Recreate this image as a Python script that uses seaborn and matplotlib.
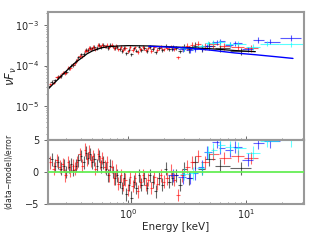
import numpy as np
import pandas as pd
import matplotlib
matplotlib.use("Agg")
import matplotlib.pyplot as plt
import seaborn as sns

# dataset 1 (black)
black_E = [0.21, 0.225, 0.24, 0.255, 0.27, 0.285, 0.30, 0.315, 0.33, 0.345, 0.36,
           0.38, 0.40, 0.42, 0.44, 0.46, 0.48, 0.50, 0.52, 0.545, 0.57, 0.595, 0.62,
           0.65, 0.68, 0.71, 0.74, 0.775, 0.81, 0.85, 0.89, 0.93, 0.97, 1.02, 1.07,
           1.12, 1.18, 1.24, 1.30, 1.37, 1.45, 1.53, 1.62, 1.72, 1.83, 1.95, 2.08,
           2.22, 2.38, 2.56, 2.76, 3.0, 3.3, 3.7, 4.2, 4.9, 6.0, 9.0]
black_F = [3.2e-5, 4.0e-5, 4.3e-5, 5.2e-5, 5.5e-5, 6.7e-5, 7.0e-5, 8.5e-5, 1.0e-4, 1.03e-4, 1.3e-4,
           1.6e-4, 1.9e-4, 1.95e-4, 2.4e-4, 2.45e-4, 2.75e-4, 2.65e-4, 2.85e-4, 2.75e-4, 3.25e-4, 2.9e-4, 3.2e-4,
           3.0e-4, 2.75e-4, 3.25e-4, 3.0e-4, 2.7e-4, 2.85e-4, 2.6e-4, 2.3e-4, 2.75e-4, 2.0e-4, 2.45e-4, 1.9e-4,
           2.65e-4, 2.35e-4, 2.95e-4, 2.45e-4, 2.75e-4, 2.3e-4, 2.9e-4, 2.6e-4, 2.1e-4, 2.7e-4, 2.4e-4, 3.05e-4,
           2.5e-4, 2.6e-4, 2.7e-4, 2.25e-4, 2.9e-4, 2.5e-4, 3.1e-4, 2.7e-4, 3.1e-4, 2.7e-4, 2.3e-4]
black_R = [2.2, 2.0, 1.0, 1.5, 0.5, 1.0, 0.0, 0.8, 1.2, 0.3, 1.0,
           1.8, 2.5, 1.5, 3.0, 2.2, 2.8, 1.5, 2.0, 1.0, 2.5, 0.8, 1.5,
           0.5, -0.5, 1.0, 0.0, -1.0, -0.5, -1.5, -2.5, -1.0, -3.5, -2.0, -4.0,
           -1.5, -2.5, -0.5, -2.0, -1.0, -2.5, -0.5, -1.5, -3.0, -1.0, -2.0, 0.5,
           -1.5, -1.0, -0.5, -2.0, 0.5, -1.0, 1.5, 0.5, 2.0, 1.0, 0.6]

# dataset 2 (red)
red_E = [0.22, 0.235, 0.25, 0.265, 0.28, 0.295, 0.31, 0.325, 0.34, 0.355,
         0.37, 0.39, 0.41, 0.43, 0.45, 0.47, 0.49, 0.51, 0.53, 0.555,
         0.58, 0.605, 0.635, 0.665, 0.695, 0.725, 0.76, 0.79, 0.83, 0.87,
         0.91, 0.95, 0.995, 1.045, 1.095, 1.15, 1.21, 1.27, 1.34, 1.41,
         1.49, 1.58, 1.67, 1.77, 1.89, 2.01, 2.15, 2.30, 2.47, 2.66,
         2.88, 3.15, 3.5, 3.9, 4.5, 5.3, 6.5, 8.5, 11.0]
red_F = [3.45e-5, 3.8e-5, 5.1e-5, 5.5e-5, 6.7e-5, 6.5e-5, 8.9e-5, 8.8e-5, 1.07e-4, 1.13e-4,
         1.38e-4, 1.73e-4, 1.7e-4, 2.3e-4, 2.35e-4, 2.75e-4, 2.6e-4, 2.9e-4, 2.55e-4, 3.25e-4,
         3.0e-4, 3.3e-4, 3.0e-4, 3.3e-4, 2.8e-4, 3.2e-4, 2.7e-4, 3.05e-4, 2.5e-4, 2.9e-4,
         2.45e-4, 2.7e-4, 2.25e-4, 2.85e-4, 2.4e-4, 2.8e-4, 2.15e-4, 2.6e-4, 2.9e-4, 2.45e-4,
         2.65e-4, 2.3e-4, 2.8e-4, 2.45e-4, 2.85e-4, 2.5e-4, 2.65e-4, 2.95e-4, 2.55e-4, 1.6e-4,
         2.7e-4, 3.0e-4, 3.2e-4, 3.4e-4, 3.0e-4, 3.4e-4, 3.0e-4, 2.95e-4, 2.75e-4]
red_R = [1.5, 0.5, 1.8, 0.8, 1.2, -0.5, 1.5, 0.2, 1.0, 0.5,
         1.5, 2.8, 1.0, 3.5, 2.0, 3.2, 1.8, 2.5, 0.5, 2.8,
         1.5, 2.2, 0.8, 1.5, -0.5, 0.8, -1.0, 0.2, -1.8, -0.5,
         -2.0, -1.2, -2.8, -0.8, -2.2, -1.0, -3.0, -1.5, -0.5, -2.0,
         -1.2, -2.5, -0.8, -1.8, -0.5, -1.5, -1.0, 0.2, -1.2, -3.6,
         -0.5, 0.8, 1.5, 2.5, 1.5, 2.8, 2.2, 2.5, 2.2]

# dataset 3 (blue)
blue_E = [2.4, 2.9, 3.35, 3.7, 4.2, 4.7, 5.7, 6.0, 7.3, 8.1, 10.4, 12.6, 16.0, 24.0]
blue_F = [2.8e-4, 2.6e-4, 2.45e-4, 2.6e-4, 2.7e-4, 3.0e-4, 3.8e-4, 4.0e-4, 3.3e-4,
          3.6e-4, 2.5e-4, 4.3e-4, 3.9e-4, 4.8e-4]
blue_R = [-0.5, -0.8, -0.9, -0.2, 0.8, 3.1, 4.7, 3.8, 3.4, 3.9, 1.9, 4.6, 4.8, 6.0]

# dataset 4 (cyan)
cyan_E = [3.0, 3.55, 4.2, 4.75, 5.3, 6.0, 7.3, 8.6, 11.4, 15.0, 24.0]
cyan_F = [2.7e-4, 2.8e-4, 3.0e-4, 3.6e-4, 3.7e-4, 3.8e-4, 3.4e-4, 3.5e-4, 2.9e-4, 3.5e-4, 3.4e-4]
cyan_R = [-0.3, -0.2, 0.6, 3.1, 3.5, 4.2, 3.9, 3.7, 3.0, 4.9, 4.95]

# models
model_E = [0.21, 0.23, 0.25, 0.28, 0.32, 0.36, 0.40, 0.45, 0.50, 0.60, 0.70, 0.85,
           1.0, 1.5, 2.0, 3.0, 5.0, 8.0, 12.0]
model_F = [2.6e-5, 3.4e-5, 4.3e-5, 6.0e-5, 8.8e-5, 1.2e-4, 1.5e-4, 1.95e-4, 2.3e-4,
           2.75e-4, 2.95e-4, 3.05e-4, 3.1e-4, 3.05e-4, 2.95e-4, 2.8e-4, 2.6e-4, 2.35e-4, 2.2e-4]
model2_E = [1.5, 3.0, 5.0, 8.0, 12.0, 18.0, 25.0]
model2_F = [3.0e-4, 2.75e-4, 2.4e-4, 2.05e-4, 1.85e-4, 1.65e-4, 1.5e-4]


def bin_err(E):
    E = np.asarray(E, dtype=float)
    mid = np.sqrt(E[1:] * E[:-1])
    lo = np.concatenate([[E[0] ** 2 / mid[0]], mid])
    hi = np.concatenate([mid, [E[-1] ** 2 / mid[-1]]])
    return np.vstack([E - lo, hi - E])


sns.set_style("ticks")
plt.rcParams['font.family'] = ['DejaVu Sans']
plt.rcParams['xtick.labelsize'] = 7
plt.rcParams['ytick.labelsize'] = 7

fig = plt.figure(figsize=(3.2, 2.4), dpi=100)
ax1 = fig.add_axes([0.15, 0.4167, 0.80, 0.5333])
ax2 = fig.add_axes([0.15, 0.15, 0.80, 0.2667], sharex=ax1)

series = [
    (black_E, black_F, black_R, 'black', np.where(np.array(black_E) < 3, 0.1, 0.2)),
    (red_E, red_F, red_R, 'red', np.where(np.array(red_E) < 3, 0.1, 0.2)),
    (blue_E, blue_F, blue_R, 'blue', 0.15),
    (cyan_E, cyan_F, cyan_R, 'cyan', 0.15),
]

for E, F, R, col, rel in series:
    xe = bin_err(E)
    F = np.asarray(F)
    ax1.errorbar(E, F, xerr=xe, yerr=F * rel, fmt='none', ecolor=col,
                 elinewidth=0.8, alpha=0.65)
    ax2.errorbar(E, R, xerr=xe, yerr=1.0, fmt='none', ecolor=col,
                 elinewidth=0.8, alpha=0.6)

models = pd.DataFrame({'E': model_E, 'F': model_F})
models2 = pd.DataFrame({'E': model2_E, 'F': model2_F})
sns.lineplot(data=models, x='E', y='F', ax=ax1, color='black', lw=0.9)
sns.lineplot(data=models2, x='E', y='F', ax=ax1, color='blue', lw=1.0)

ax2.axhline(0, color='#66ee55', lw=1.3, zorder=5)

ax1.set_xscale('log')
ax1.set_yscale('log')
ax1.set_xlim(0.21, 31)
ax1.set_ylim(1.45e-6, 2.1e-3)
ax1.set_xlabel('')
ax1.set_ylabel(r'$\nu F_\nu$', fontsize=8.5)
ax1.tick_params(axis='x', which='both', labelbottom=False, direction='in')

ax2.set_ylim(-5, 5)
ax2.set_yticks([-5, 0, 5])
ax2.set_xlabel('Energy [keV]', fontsize=7.5, labelpad=1)
ax2.set_ylabel('(data$-$model)/error', fontsize=5.5)
ax2.tick_params(axis='x', which='both', direction='in', pad=2)

for ax in (ax1, ax2):
    for s in ax.spines.values():
        s.set_color('#999999')
        s.set_linewidth(1.5)
    ax.tick_params(which='major', length=3, width=0.6, color='#555555')
    ax.tick_params(which='minor', length=1.5, width=0.5, color='#555555')

ax1.yaxis.set_label_coords(-0.115, 0.5)
ax2.yaxis.set_label_coords(-0.13, 0.5)

fig.savefig('out.png', dpi=100)
